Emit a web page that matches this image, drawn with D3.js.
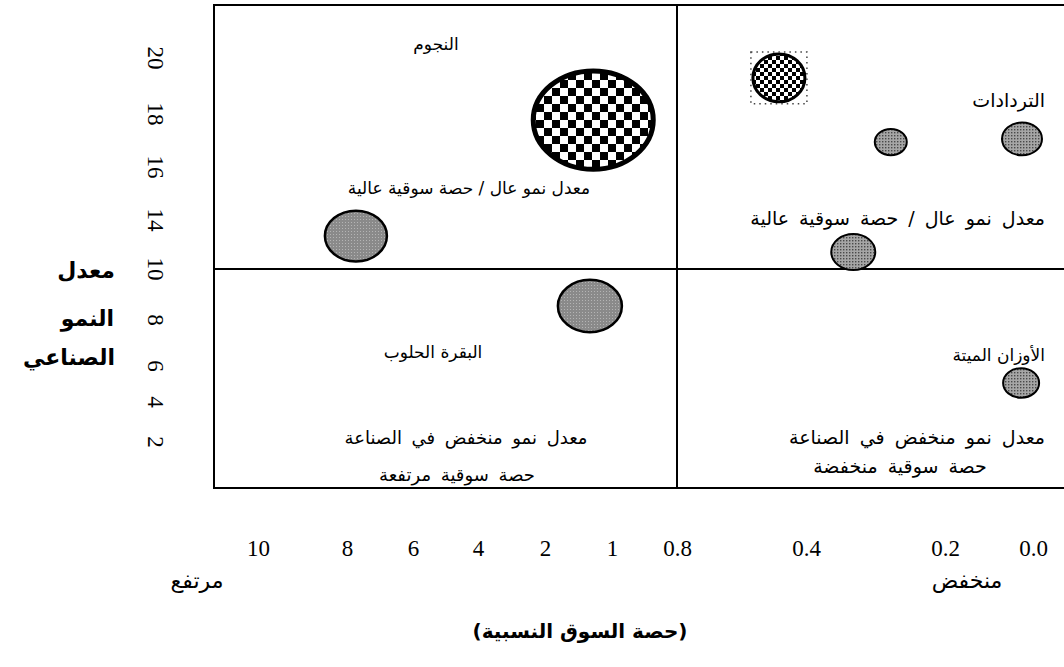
<!DOCTYPE html>
<html>
<head>
<meta charset="utf-8">
<script src="https://cdn.jsdelivr.net/npm/d3@7"></script>
<style>
  html, body { margin: 0; padding: 0; background: #fff; }
  svg { display: block; }
</style>
</head>
<body>
<svg id="chart" width="1064" height="667"></svg>
<script>
// ---------------- DATA ----------------
const xTickValues = [10, 8, 6, 4, 2, 1, 0.8, 0.4, 0.2, 0];
const xTickLabels = ["10", "8", "6", "4", "2", "1", "0.8", "0.4", "0.2", "0.0"];
const yTickValues = [20, 18, 16, 14, 10, 8, 6, 4, 2];
const yTickLabels = ["20", "18", "16", "14", "10", "8", "6", "4", "2"];

// relative market share, industry growth rate, bubble size
const shareValues  = [1.28, 0.484, 0.278, 0.025, 0.332, 0.027, 7.73, 1.33];
const growthValues = [17.77, 19.29, 16.94, 17.06, 11.39, 5.06, 12.69, 8.55];
const sizeValues   = [60, 26, 16, 20, 22, 18, 31, 32];

const xDivider = 0.8;
const yDivider = 10;

const quadrantLabels = ["النجوم", "التردادات", "البقرة الحلوب", "الأوزان الميتة"];
const highHighText = "معدل نمو عال / حصة سوقية عالية";
const lowGrowthText = "معدل نمو منخفض في الصناعة";
const highShareText = "حصة سوقية مرتفعة";
const lowShareText = "حصة سوقية منخفضة";
const yTitleLines = ["معدل", "النمو", "الصناعي"];
const xEndLabels = ["مرتفع", "منخفض"];
const xTitle = "(حصة السوق النسبية)";

// ---------------- LAYOUT / STYLE ----------------
const svg = d3.select("#chart");
const box = { left: 214, top: 5, right: 1070, bottom: 488 };
const xTickPx = [258, 347, 413, 478, 545, 612, 677, 806, 945, 1033];
const yTickPx = [58, 114, 167, 220, 269, 320, 366, 402, 442];

const x = d3.scaleLinear().domain(xTickValues).range(xTickPx);
const y = d3.scaleLinear().domain(yTickValues).range(yTickPx);
const r = d3.scaleLinear().domain([0, 60]).range([0, 60]);
const aspect = 0.82;

const arabic = "'DejaVu Sans', sans-serif";
const serif = "'Times New Roman', 'Liberation Serif', 'DejaVu Serif', serif";

// patterns
const defs = svg.append("defs");
function checker(id, s) {
  const p = defs.append("pattern").attr("id", id).attr("patternUnits", "userSpaceOnUse")
    .attr("width", 2 * s).attr("height", 2 * s);
  p.append("rect").attr("width", 2 * s).attr("height", 2 * s).attr("fill", "#fff");
  p.append("rect").attr("width", s).attr("height", s).attr("fill", "#000");
  p.append("rect").attr("x", s).attr("y", s).attr("width", s).attr("height", s).attr("fill", "#000");
}
checker("checkerBig", 8);
checker("checkerSmall", 4);
(function () {
  const p = defs.append("pattern").attr("id", "dots").attr("patternUnits", "userSpaceOnUse")
    .attr("width", 3).attr("height", 3);
  p.append("rect").attr("width", 3).attr("height", 3).attr("fill", "#a6a6a6");
  p.append("rect").attr("width", 1.4).attr("height", 1.4).attr("fill", "#4a4a4a");
})();
(function () {
  const p = defs.append("pattern").attr("id", "gray").attr("patternUnits", "userSpaceOnUse")
    .attr("width", 3).attr("height", 3);
  p.append("rect").attr("width", 3).attr("height", 3).attr("fill", "#8a8a8a");
  p.append("rect").attr("width", 1).attr("height", 1).attr("fill", "#b4b4b4");
})();

const bubbleStyle = [
  { fill: "url(#checkerBig)", sw: 5 },
  { fill: "url(#checkerSmall)", sw: 3, selected: true },
  { fill: "url(#dots)", sw: 2 },
  { fill: "url(#dots)", sw: 2 },
  { fill: "url(#dots)", sw: 2 },
  { fill: "url(#dots)", sw: 2 },
  { fill: "url(#gray)", sw: 2.5 },
  { fill: "url(#gray)", sw: 2.5 }
];

// frame
svg.append("rect")
  .attr("x", box.left).attr("y", box.top)
  .attr("width", box.right - box.left).attr("height", box.bottom - box.top)
  .attr("fill", "none").attr("stroke", "#000").attr("stroke-width", 2);
svg.append("line")
  .attr("x1", x(xDivider)).attr("x2", x(xDivider))
  .attr("y1", box.top).attr("y2", box.bottom)
  .attr("stroke", "#000").attr("stroke-width", 2);
svg.append("line")
  .attr("x1", box.left).attr("x2", box.right)
  .attr("y1", y(yDivider)).attr("y2", y(yDivider))
  .attr("stroke", "#000").attr("stroke-width", 2);

// bubbles
const bubbles = shareValues.map((s, i) => ({ s, g: growthValues[i], size: sizeValues[i], st: bubbleStyle[i] }));
const bg = svg.append("g");
bg.selectAll("ellipse").data(bubbles).join("ellipse")
  .attr("cx", d => x(d.s))
  .attr("cy", d => y(d.g))
  .attr("rx", d => r(d.size))
  .attr("ry", d => r(d.size) * (d.st.selected ? 0.92 : aspect))
  .attr("fill", d => d.st.fill)
  .attr("stroke", "#000")
  .attr("stroke-width", d => d.st.sw);
bubbles.filter(d => d.st.selected).forEach(d => {
  const rx = r(d.size) + 2, ry = r(d.size) * 0.92 + 2;
  bg.append("rect")
    .attr("x", x(d.s) - rx).attr("y", y(d.g) - ry)
    .attr("width", 2 * rx).attr("height", 2 * ry)
    .attr("fill", "none").attr("stroke", "#444").attr("stroke-width", 1.5)
    .attr("stroke-dasharray", "1.5,4");
});

// x axis
const xAxis = svg.append("g").attr("transform", "translate(0,540)")
  .call(d3.axisBottom(x).tickValues(xTickValues).tickFormat((d, i) => xTickLabels[i]).tickSize(0).tickPadding(0));
xAxis.attr("font-family", serif).attr("font-size", 23);
xAxis.select(".domain").remove();
xAxis.selectAll("text")
  .style("font-family", serif).style("font-size", "23px")
  .attr("fill", "#000").attr("dy", "0.71em");

// y axis (rotated labels)
const yAxis = svg.append("g").attr("transform", "translate(155,0)");
yAxis.selectAll("text").data(yTickValues).join("text")
  .attr("transform", d => `translate(0,${y(d)}) rotate(90)`)
  .attr("text-anchor", "middle")
  .attr("dominant-baseline", "central")
  .style("font-family", serif).style("font-size", "23px")
  .attr("fill", "#000")
  .text((d, i) => yTickLabels[i]);

// Arabic texts
function arText(t, xx, yy, opts = {}) {
  const el = svg.append("text")
    .attr("x", xx).attr("y", yy)
    .attr("direction", "rtl")
    .attr("text-anchor", opts.anchor || "middle")
    .attr("dominant-baseline", "central")
    .style("font-family", arabic)
    .style("font-size", (opts.size || 17) + "px")
    .style("font-weight", opts.bold ? "bold" : "normal")
    .attr("fill", "#000")
    .text(t);
  if (opts.width) {
    const w = el.node().getComputedTextLength();
    const n = (t.match(/ /g) || []).length;
    if (n > 0) el.style("word-spacing", Math.max(0, Math.min(4, (opts.width - w) / n)) + "px");
  }
  return el;
}
arText(quadrantLabels[0], 436, 44, { size: 17 });
arText(highHighText, 469, 188, { size: 17, width: 238 });
arText(quadrantLabels[1], 1045, 100, { anchor: "start", size: 19 });
arText(highHighText, 1045, 218, { anchor: "start", size: 19, width: 360 });
arText(quadrantLabels[2], 433, 352, { size: 17 });
arText(lowGrowthText, 466, 437, { size: 18, width: 243 });
arText(highShareText, 457, 474, { size: 18, width: 195 });
arText(quadrantLabels[3], 1045, 355, { anchor: "start", size: 17 });
arText(lowGrowthText, 1045, 437, { anchor: "start", size: 19, width: 293 });
arText(lowShareText, 900, 466, { size: 19, width: 220 });

arText(yTitleLines[0], 115, 270, { anchor: "start", bold: true, size: 22 });
arText(yTitleLines[1], 114, 318, { anchor: "start", bold: true, size: 22 });
arText(yTitleLines[2], 115, 357, { anchor: "start", bold: true, size: 22 });

arText(xEndLabels[0], 197, 580, { size: 22 });
arText(xEndLabels[1], 967, 580, { size: 22 });
arText(xTitle, 580, 631, { bold: true, size: 20 });
</script>
</body>
</html>
